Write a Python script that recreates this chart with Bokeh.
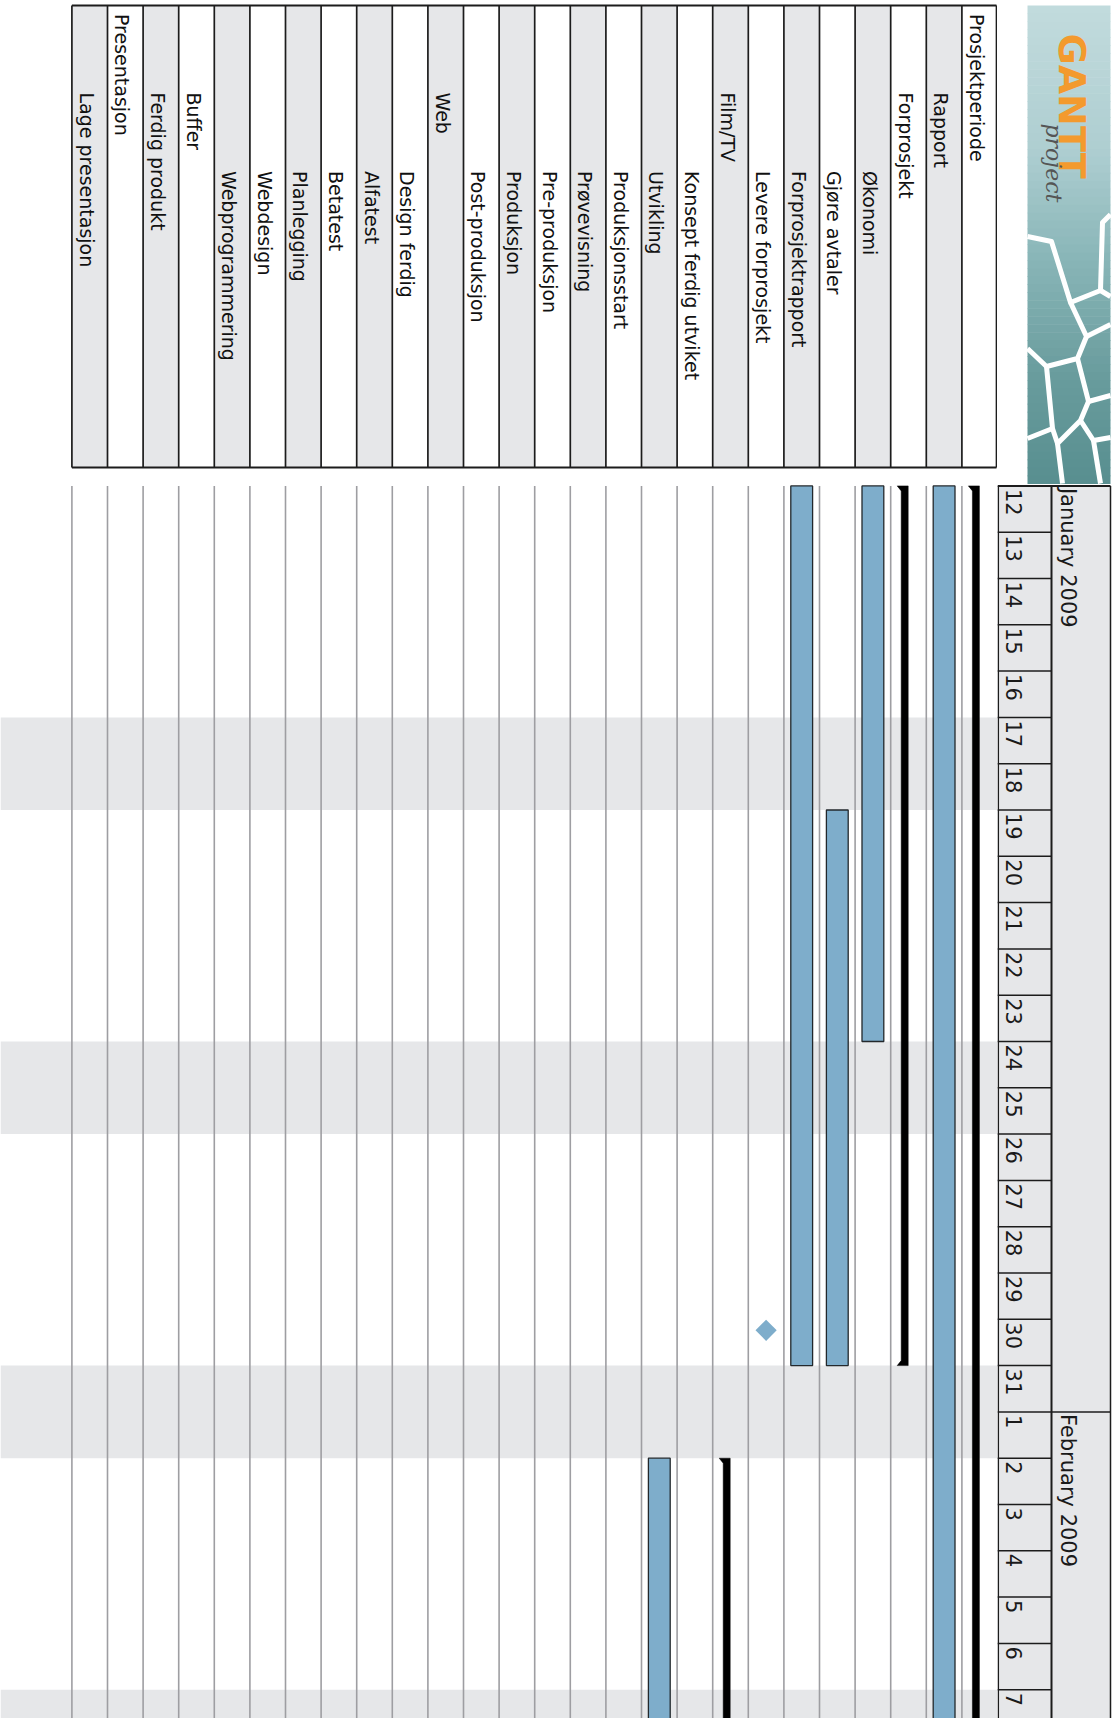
import numpy as np
import pandas as pd
from bokeh.plotting import figure
from bokeh.layouts import gridplot
from bokeh.models import Range1d
from bokeh.core.properties import value
from bokeh.embed import file_html
from bokeh.resources import INLINE

# ---------------- data ----------------
TASKS = ["Prosjektperiode", "Rapport", "Forprosjekt", "Økonomi", "Gjøre avtaler",
         "Forprosjektrapport", "Levere forprosjekt", "Film/TV", "Konsept ferdig utviket",
         "Utvikling", "Produksjonsstart", "Prøvevisning", "Pre-produksjon", "Produksjon",
         "Post-produksjon", "Web", "Design ferdig", "Alfatest", "Betatest", "Planlegging",
         "Webdesign", "Webprogrammering", "Buffer", "Ferdig produkt", "Presentasjon",
         "Lage presentasjon"]
LEVELS = [0, 1, 1, 2, 2, 2, 2, 1, 2, 2, 2, 2, 2, 2, 2, 1, 2, 2, 2, 2, 2, 2, 1, 1, 0, 1]

# normal tasks (row index, start, end exclusive)
BAR_ROWS = [1, 3, 4, 5, 9]
BAR_START = ["2009-01-12", "2009-01-12", "2009-01-19", "2009-01-12", "2009-02-02"]
BAR_END = ["2009-05-22", "2009-01-24", "2009-01-31", "2009-01-31", "2009-03-06"]

# summary tasks
SUM_ROWS = [0, 2, 7]
SUM_START = ["2009-01-12", "2009-01-12", "2009-02-02"]
SUM_END = ["2009-05-29", "2009-01-31", "2009-03-20"]

# milestones
MS_ROWS = [6]
MS_DATE = ["2009-01-30"]

# calendar header
VIEW_START = "2009-01-12"
DAY_LABELS = ["12", "13", "14", "15", "16", "17", "18", "19", "20", "21", "22", "23", "24",
              "25", "26", "27", "28", "29", "30", "31", "1", "2", "3", "4", "5", "6", "7"]
MONTH_LABELS = ["January 2009", "February 2009"]
MONTH_LABEL_AT = ["2009-01-12", "2009-02-01"]
MONTH_BOUNDS = ["2009-02-01"]
WEEKENDS = ["2009-01-17", "2009-01-24", "2009-01-31", "2009-02-07"]

# ---------------- layout constants ----------------
W, H = 1120, 1718
ROW_PX = 35.6
DAY_PX = 46.3
TOP_H = 484
BOT_H = H - TOP_H
LEFT_W = 997
RIGHT_W = W - LEFT_W
DAY_MS = 86400000.0

GRAY = "#e6e7e9"
BAR_FILL = "#7eadcb"
FONT = value("DejaVu Sans")
SHIFT = 0.36  # rotated-text anchor correction, in em


def ms(d):
    return pd.Timestamp(d).value / 1e6


t0 = ms(VIEW_START)
y_top = t0 - (485.4 - TOP_H) / DAY_PX * DAY_MS
y_bot = y_top + BOT_H / DAY_PX * DAY_MS
PXD = DAY_MS / DAY_PX  # ms per pixel

x_left = -0.5 + LEFT_W / ROW_PX
xr = Range1d(start=x_left, end=-0.5)
yr = Range1d(start=y_bot, end=y_top)


def mkfig(w, h, xrng, yrng):
    p = figure(width=w, height=h, x_range=xrng, y_range=yrng, output_backend="svg",
               toolbar_location=None, min_border=0, x_axis_location=None,
               y_axis_location=None, outline_line_color=None,
               background_fill_color="white", border_fill_color="white")
    p.grid.visible = False
    return p


def rx(row, off_px):
    """x position inside a row, off_px pixels right of the row's left edge"""
    return row + 0.5 - off_px / ROW_PX


# ---------------- chart ----------------
chart = mkfig(LEFT_W, BOT_H, xr, yr)
ws = [ms(d) for d in WEEKENDS]
chart.quad(left=x_left, right=-0.5, top=ws, bottom=[w + 2 * DAY_MS for w in ws],
           fill_color=GRAY, line_color=None)
line_x = [k + 0.5 for k in range(len(TASKS))]
chart.segment(x0=line_x, y0=t0, x1=line_x, y1=y_bot, line_color="#9e9ea2", line_width=1.6)

half = 10.9 / ROW_PX
chart.quad(left=[r + half for r in BAR_ROWS], right=[r - half for r in BAR_ROWS],
           top=[ms(d) for d in BAR_START], bottom=[ms(d) for d in BAR_END],
           fill_color=BAR_FILL, line_color="#23282c", line_width=1.3)

sx, sy = [], []
for r, s, e in zip(SUM_ROWS, SUM_START, SUM_END):
    s, e = ms(s), ms(e)
    sx.append([rx(r, 6.5), rx(r, 17.5), rx(r, 17.5), rx(r, 6.5), rx(r, 10.5), rx(r, 10.5)])
    sy.append([s, s, e, e, e - 5 * PXD, s + 5 * PXD])
chart.patches(xs=sx, ys=sy, fill_color="black", line_color="black", line_width=0.5)

chart.scatter(x=MS_ROWS, y=[ms(d) + 11 * PXD for d in MS_DATE], marker="square",
              angle=np.pi / 4, size=15, fill_color=BAR_FILL, line_color=None)

# ---------------- header (calendar) ----------------
hdr = mkfig(RIGHT_W, BOT_H, Range1d(LEFT_W, W), yr)
D0, D1, D2 = 997, 1051, 1110
hdr.quad(left=[D0, D1], right=[D1, D2], top=t0, bottom=y_bot, fill_color=GRAY, line_color=None)
day_ms = [t0 + i * DAY_MS for i in range(len(DAY_LABELS))]
bounds = day_ms[1:]
hdr.segment(x0=D0, y0=bounds, x1=D1, y1=bounds, line_color="#1c1c1c", line_width=1.5)
mb = [ms(d) for d in MONTH_BOUNDS]
hdr.segment(x0=D1, y0=mb, x1=D2, y1=mb, line_color="#1c1c1c", line_width=1.5)
hdr.segment(x0=[D0 + 0.8, D1, D2], y0=t0, x1=[D0 + 0.8, D1, D2], y1=y_bot,
            line_color="#1c1c1c", line_width=[1.5, 2.0, 1.5])
hdr.segment(x0=D0, y0=t0, x1=D2, y1=t0, line_color="#1c1c1c", line_width=2)
DAY_FS = 21
hdr.text(x=1005.5 + SHIFT * DAY_FS, y=[d + 3 * PXD for d in day_ms], text=DAY_LABELS,
         angle=-np.pi / 2, text_align="left", text_baseline="alphabetic", text_font=FONT,
         text_font_size="%dpx" % DAY_FS, text_color="#1a1a1a")
MON_FS = 21
hdr.text(x=1059.5 + SHIFT * MON_FS, y=[ms(d) + 2 * PXD for d in MONTH_LABEL_AT],
         text=MONTH_LABELS, angle=-np.pi / 2, text_align="left", text_baseline="alphabetic",
         text_font=FONT, text_font_size="%dpx" % MON_FS, text_color="#1a1a1a")

# ---------------- task table ----------------
tbl = mkfig(LEFT_W, TOP_H, xr, Range1d(TOP_H, 0))
rows = list(range(len(TASKS)))
T_TOP, T_BOT = 5, 467
tbl.quad(left=[r + 0.5 for r in rows], right=[r - 0.5 for r in rows], top=T_TOP, bottom=T_BOT,
         fill_color=["white" if r % 2 == 0 else GRAY for r in rows], line_color=None)
div_x = [k + 0.5 for k in range(len(TASKS))] + [-0.5 + 1.0 / ROW_PX]
tbl.segment(x0=div_x, y0=T_TOP, x1=div_x, y1=T_BOT, line_color="#1c1c1c", line_width=1.7)
tbl.segment(x0=len(TASKS) - 0.5, y0=[T_TOP, T_BOT], x1=-0.5 + 1.0 / ROW_PX, y1=[T_TOP, T_BOT],
            line_color="#1c1c1c", line_width=2)
TASK_FS = 19
tbl.text(x=[rx(r, 8.0 + SHIFT * TASK_FS) for r in rows], y=[13.5 + 78.5 * lv for lv in LEVELS],
         text=TASKS, angle=-np.pi / 2, text_align="left", text_baseline="alphabetic",
         text_font=FONT, text_font_size="%dpx" % TASK_FS, text_color="#111111")

# ---------------- logo ----------------
logo = mkfig(RIGHT_W, TOP_H, Range1d(LEFT_W, W), Range1d(TOP_H, 0))
L0, L1, LT, LB = 1027, 1110, 5, 483
STOPS_Y = [5, 150, 260, 380, 483]
STOPS_C = [(194, 219, 221), (174, 206, 209), (136, 181, 183), (104, 155, 156), (88, 142, 143)]
n = 60
edges = np.linspace(LT, LB, n + 1)
mids = (edges[:-1] + edges[1:]) / 2
cols = []
for m in mids:
    c = [np.interp(m, STOPS_Y, [s[i] for s in STOPS_C]) for i in range(3)]
    cols.append("#%02x%02x%02x" % tuple(int(round(v)) for v in c))
logo.quad(left=L0, right=L1, top=edges[:-1], bottom=edges[1:] + 0.6, fill_color=cols, line_color=None)
HEX = [
    [(1027, 236), (1051, 241), (1070, 302), (1100, 290), (1102, 222), (1110, 214)],
    [(1100, 290), (1110, 296)],
    [(1070, 302), (1086, 336), (1077, 358), (1046, 366), (1027, 348)],
    [(1086, 336), (1110, 324)],
    [(1077, 358), (1088, 401), (1110, 395)],
    [(1046, 366), (1052, 428), (1027, 438)],
    [(1088, 401), (1080, 420), (1057, 443), (1052, 428)],
    [(1057, 443), (1062, 483)],
    [(1080, 420), (1093, 440), (1110, 437)],
    [(1093, 440), (1100, 483)],
]
logo.multi_line(xs=[[p[0] for p in l] for l in HEX], ys=[[p[1] for p in l] for l in HEX],
                line_color="white", line_width=5, line_join="round")
G_FS = 38
logo.text(x=[1058 + SHIFT * G_FS], y=[33], text=["GANTT"], angle=-np.pi / 2, text_align="left",
          text_baseline="alphabetic", text_font=FONT, text_font_style="bold",
          text_font_size="%dpx" % G_FS, text_color="#f39a2e")
P_FS = 22
logo.text(x=[1045 + SHIFT * P_FS], y=[123], text=["project"], angle=-np.pi / 2,
          text_align="left", text_baseline="alphabetic", text_font=value("DejaVu Serif"),
          text_font_style="italic", text_font_size="%dpx" % P_FS, text_color="#555555")

layout = gridplot([[tbl, logo], [chart, hdr]], toolbar_location=None)
open("out.html", "w").write(file_html(layout, INLINE))
